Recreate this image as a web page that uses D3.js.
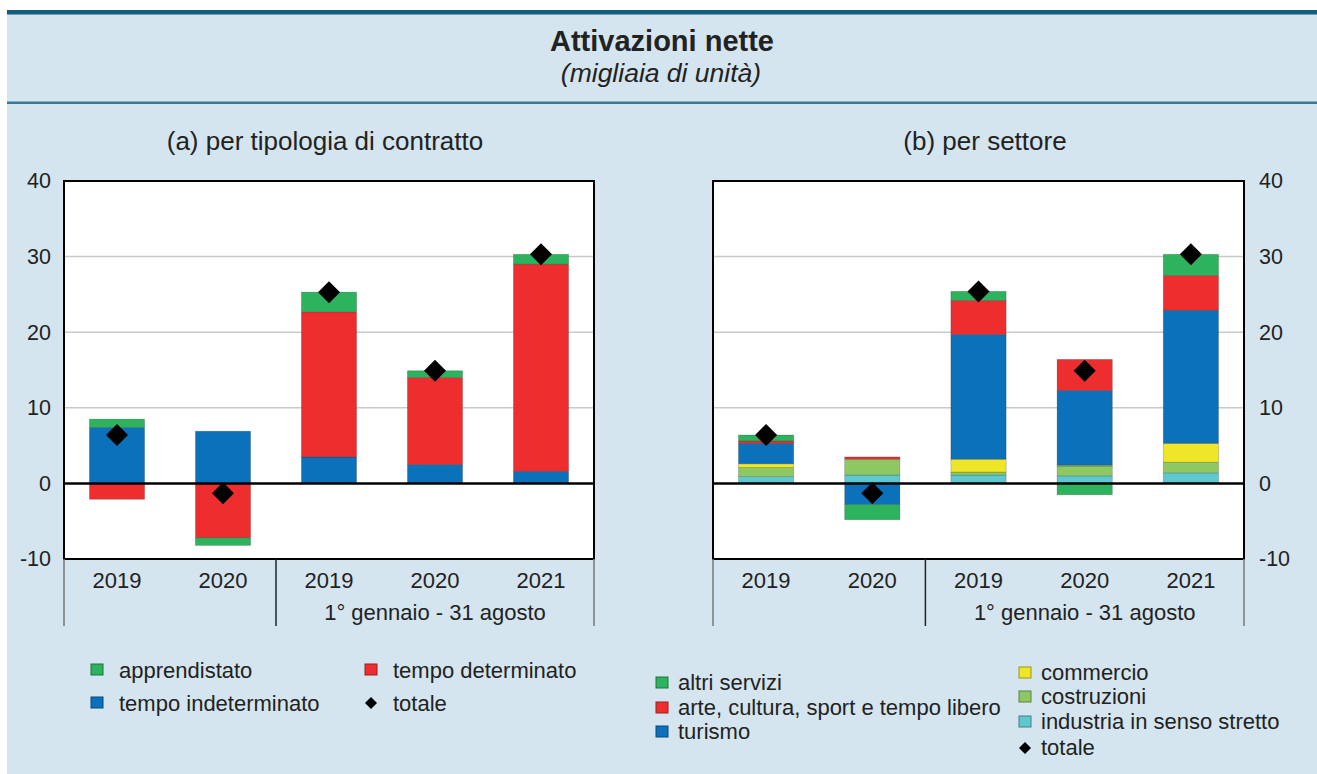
<!DOCTYPE html>
<html>
<head>
<meta charset="utf-8">
<script src="https://cdn.jsdelivr.net/npm/d3@7"></script>
<style>
  html, body { margin: 0; padding: 0; background: #fff; }
  svg { display: block; }
  text { font-family: "Liberation Sans", Arial, Helvetica, sans-serif; fill: #222; }
</style>
</head>
<body>
<svg id="chart" width="1317" height="774"></svg>
<script>
// Periods on the category axis
const categories = ["2019", "2020", "2019", "2020", "2021"];
const periodLabel = "1° gennaio - 31 agosto";
const yTicks = [-10, 0, 10, 20, 30, 40];

// (a) by contract type, thousands of units
const contractKeys = ["tempo indeterminato", "tempo determinato", "apprendistato"];
const indeterminato = [7.4, 6.9, 3.5, 2.5, 1.6];
const determinato   = [-2.1, -7.2, 19.2, 11.5, 27.4];
const apprendistato = [1.1, -1.0, 2.6, 0.9, 1.3];
const totaleContratto = [6.4, -1.3, 25.3, 14.9, 30.3];

// (b) by sector, thousands of units
const sectorKeys = ["industria in senso stretto", "costruzioni", "commercio", "turismo",
                    "arte, cultura, sport e tempo libero", "altri servizi"];
const industria   = [0.9, 1.1, 1.1, 1.0, 1.4];
const costruzioni = [1.2, 2.1, 0.4, 1.3, 1.4];
const commercio   = [0.5, 0.0, 1.7, 0.1, 2.5];
const turismo     = [2.7, -2.8, 16.5, 9.9, 17.6];
const arte        = [0.3, 0.3, 4.5, 4.1, 4.6];
const altriServizi = [0.8, -2.0, 1.2, -1.5, 2.8];
const totaleSettore = [6.4, -1.3, 25.4, 14.9, 30.3];

const colors = {
  "apprendistato": "#2db35d",
  "tempo indeterminato": "#0b71bb",
  "tempo determinato": "#ee2e2e",
  "altri servizi": "#2db35d",
  "arte, cultura, sport e tempo libero": "#ee2e2e",
  "turismo": "#0b71bb",
  "commercio": "#f0e629",
  "costruzioni": "#8ec863",
  "industria in senso stretto": "#5fc7cf"
};

const contractRows = categories.map((c, i) => ({
  "tempo indeterminato": indeterminato[i],
  "tempo determinato": determinato[i],
  "apprendistato": apprendistato[i]
}));
const sectorRows = categories.map((c, i) => ({
  "industria in senso stretto": industria[i],
  "costruzioni": costruzioni[i],
  "commercio": commercio[i],
  "turismo": turismo[i],
  "arte, cultura, sport e tempo libero": arte[i],
  "altri servizi": altriServizi[i]
}));

const W = 1317, H = 774;
const svg = d3.select("#chart");

// page background and header rules
svg.append("rect").attr("x", 0).attr("y", 0).attr("width", W).attr("height", H).attr("fill", "#fff");
svg.append("rect").attr("x", 7).attr("y", 12).attr("width", W - 7).attr("height", H - 12).attr("fill", "#d4e5ef");
svg.append("rect").attr("x", 7).attr("y", 10).attr("width", W - 7).attr("height", 4.5).attr("fill", "#165e80");
svg.append("rect").attr("x", 7).attr("y", 101.5).attr("width", W - 7).attr("height", 2.5).attr("fill", "#3b7893");

svg.append("text").attr("x", 662).attr("y", 51).attr("text-anchor", "middle")
  .style("font-size", "29px").style("font-weight", "bold").text("Attivazioni nette");
svg.append("text").attr("x", 661).attr("y", 82).attr("text-anchor", "middle")
  .style("font-size", "26.5px").style("font-style", "italic").text("(migliaia di unità)");

const y = d3.scaleLinear().domain([-10, 40]).range([559, 181]);

function panel(opts) {
  const { x0, x1, title, titleX, keys, rows, totals, axisSide } = opts;
  const g = svg.append("g");
  const x = d3.scaleBand().domain(d3.range(categories.length))
    .range([x0, x1]).paddingInner(0.48).paddingOuter(0.24);

  g.append("text").attr("x", titleX).attr("y", 150).attr("text-anchor", "middle")
    .style("font-size", "26px").text(title);

  // plot area
  g.append("rect").attr("x", x0).attr("y", y(40)).attr("width", x1 - x0)
    .attr("height", y(-10) - y(40)).attr("fill", "#fff");

  // grid lines
  g.selectAll(".grid").data([10, 20, 30]).join("line")
    .attr("x1", x0).attr("x2", x1).attr("y1", d => y(d)).attr("y2", d => y(d))
    .attr("stroke", "#c9c9c9").attr("stroke-width", 1.5);

  // stacked bars
  const series = d3.stack().keys(keys).offset(d3.stackOffsetDiverging)(rows);
  g.selectAll(".series").data(series).join("g")
    .attr("fill", s => colors[s.key])
    .selectAll("rect").data(s => s.map((d, i) => ({ d, i })).filter(o => o.d[1] !== o.d[0]))
    .join("rect")
    .attr("x", o => x(o.i)).attr("width", x.bandwidth())
    .attr("y", o => y(Math.max(o.d[0], o.d[1])))
    .attr("height", o => Math.abs(y(o.d[0]) - y(o.d[1])))
    .attr("stroke", "rgba(0,0,0,0.22)").attr("stroke-width", 0.8);

  // zero line
  g.append("line").attr("x1", x0).attr("x2", x1).attr("y1", y(0)).attr("y2", y(0))
    .attr("stroke", "#000").attr("stroke-width", 2.5);

  // frame
  g.append("rect").attr("x", x0).attr("y", y(40)).attr("width", x1 - x0)
    .attr("height", y(-10) - y(40)).attr("fill", "none").attr("stroke", "#000").attr("stroke-width", 2);

  // totals
  g.selectAll(".tot").data(totals).join("path")
    .attr("d", "M0,-11L11,0L0,11L-11,0Z")
    .attr("transform", (d, i) => `translate(${x(i) + x.bandwidth() / 2},${y(d)})`)
    .attr("fill", "#000");

  // value axis
  const axis = axisSide === "left" ? d3.axisLeft(y) : d3.axisRight(y);
  const ag = g.append("g").attr("transform", `translate(${axisSide === "left" ? x0 : x1},0)`)
    .call(axis.tickValues(yTicks).tickSize(0).tickPadding(axisSide === "left" ? 13 : 15).tickFormat(d => String(d)));
  ag.select(".domain").remove();
  ag.selectAll("text").style("font-size", "21.5px").attr("fill", "#222")
    .style("font-family", "'Liberation Sans', Arial, sans-serif");

  // category axis below the plot
  const sepX = x0 + x.step() * 2 + (x.step() * x.paddingOuter() - x.step() * x.paddingInner() / 2);
  [x0, x1].forEach(v => g.append("line").attr("x1", v).attr("x2", v)
    .attr("y1", y(-10)).attr("y2", 626).attr("stroke", "#777").attr("stroke-width", 1.5));
  g.append("line").attr("x1", sepX).attr("x2", sepX).attr("y1", y(-10)).attr("y2", 626)
    .attr("stroke", "#222").attr("stroke-width", 1.5);
  g.selectAll(".cat").data(categories).join("text")
    .attr("x", (d, i) => x(i) + x.bandwidth() / 2).attr("y", 588)
    .attr("text-anchor", "middle").style("font-size", "22px").text(d => d);
  g.append("text").attr("x", (sepX + x1) / 2).attr("y", 620).attr("text-anchor", "middle")
    .style("font-size", "22px").text(periodLabel);
}

panel({ x0: 64, x1: 594, title: "(a) per tipologia di contratto", titleX: 325,
  keys: contractKeys, rows: contractRows, totals: totaleContratto, axisSide: "left" });
panel({ x0: 713, x1: 1244, title: "(b) per settore", titleX: 985,
  keys: sectorKeys, rows: sectorRows, totals: totaleSettore, axisSide: "right" });

// legends
function legendItem(x, yc, color, isDiamond) {
  if (isDiamond) {
    svg.append("path").attr("d", "M0,-6L6,0L0,6L-6,0Z")
      .attr("transform", `translate(${x + 6},${yc})`).attr("fill", "#000");
  } else {
    svg.append("rect").attr("x", x).attr("y", yc - 6).attr("width", 12).attr("height", 11)
      .attr("fill", color).attr("stroke", d3.color(color).darker(1.2)).attr("stroke-width", 1);
  }
}
const legendA = [
  { label: "apprendistato", x: 91, y: 670 },
  { label: "tempo indeterminato", x: 91, y: 703 },
  { label: "tempo determinato", x: 365, y: 670 },
  { label: "totale", x: 365, y: 703, diamond: true }
];
legendA.forEach(d => {
  legendItem(d.x, d.y, colors[d.label], d.diamond);
  svg.append("text").attr("x", d.x + 28).attr("y", d.y + 8).style("font-size", "22px").text(d.label);
});
const legendB = [
  { label: "altri servizi", x: 656, y: 683 },
  { label: "arte, cultura, sport e tempo libero", x: 656, y: 708 },
  { label: "turismo", x: 656, y: 732 },
  { label: "commercio", x: 1019, y: 673 },
  { label: "costruzioni", x: 1019, y: 697 },
  { label: "industria in senso stretto", x: 1019, y: 722 },
  { label: "totale", x: 1019, y: 748, diamond: true }
];
legendB.forEach(d => {
  legendItem(d.x, d.y, colors[d.label], d.diamond);
  svg.append("text").attr("x", d.x + 22).attr("y", d.y + 7).style("font-size", "22px").text(d.label);
});
</script>
</body>
</html>
